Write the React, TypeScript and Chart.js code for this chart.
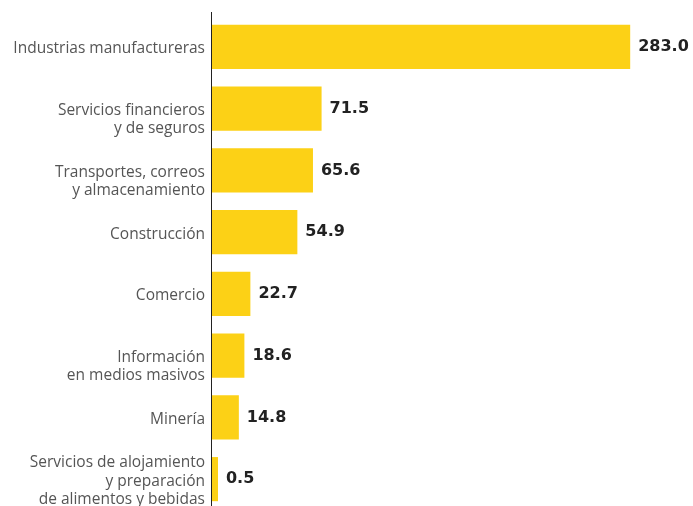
import React, { useEffect, useRef } from "react";
import { Chart, registerables } from "chart.js";

Chart.register(...registerables);

const categories: (string | string[])[] = [
  "Industrias manufactureras",
  ["Servicios financieros", "y de seguros"],
  ["Transportes, correos", "y almacenamiento"],
  "Construcción",
  "Comercio",
  ["Información", "en medios masivos"],
  "Minería",
  ["Servicios de alojamiento", "y preparación", "de alimentos y bebidas"],
];
const values = [283.0, 71.5, 65.6, 54.9, 22.7, 18.6, 14.8, 0.5];

const LABEL_FONT = "'Open Sans', 'DejaVu Sans', sans-serif";
const VALUE_FONT = "'DejaVu Sans', 'Open Sans', sans-serif";
const AXIS_MIN = -3.6;

const valueLabels = {
  id: "valueLabels",
  afterDatasetsDraw(chart: any) {
    const ctx = chart.ctx;
    const meta = chart.getDatasetMeta(0);
    ctx.save();
    ctx.font = `bold 16px ${VALUE_FONT}`;
    ctx.fillStyle = "#222222";
    ctx.textAlign = "left";
    ctx.textBaseline = "middle";
    meta.data.forEach((bar: any, i: number) => {
      ctx.fillText(values[i].toFixed(1), bar.x + 8, bar.y);
    });
    ctx.restore();
  },
};

const axisLine = {
  id: "axisLine",
  afterDraw(chart: any) {
    const ctx = chart.ctx;
    const x = Math.round(chart.chartArea.left) - 0.5;
    ctx.save();
    ctx.strokeStyle = "#222222";
    ctx.lineWidth = 1;
    ctx.beginPath();
    ctx.moveTo(x, 12);
    ctx.lineTo(x, chart.height);
    ctx.stroke();
    ctx.restore();
  },
};

export default function App() {
  const ref = useRef<HTMLCanvasElement>(null);
  useEffect(() => {
    if (!ref.current) return;
    const chart = new Chart(ref.current, {
      type: "bar",
      data: {
        labels: categories,
        datasets: [
          {
            data: values,
            backgroundColor: "#FCD116",
            borderWidth: 0,
            base: AXIS_MIN,
            categoryPercentage: 1,
            barPercentage: 0.715,
          },
        ],
      },
      options: {
        indexAxis: "y",
        animation: false,
        responsive: false,
        maintainAspectRatio: false,
        layout: { padding: { top: 16, right: 38, bottom: 0, left: 0 } },
        plugins: { legend: { display: false }, tooltip: { enabled: false } },
        scales: {
          x: { display: false, min: AXIS_MIN, max: 300 },
          y: {
            grid: { display: false, drawTicks: false },
            border: { display: false },
            ticks: {
              color: "#555555",
              padding: 7,
              labelOffset: 2,
              font: { family: LABEL_FONT, size: 15.5, lineHeight: 1.17 },
              callback: (_v: any, i: number) => {
                const c = categories[i];
                if (Array.isArray(c) && c.length === 2) return ["", ...c];
                return c;
              },
            },
            afterFit(scale: any) {
              scale.width = 212;
              scale.paddingTop = 0;
              scale.paddingBottom = 0;
            },
          },
        },
      },
      plugins: [valueLabels, axisLine],
    });
    return () => chart.destroy();
  }, []);
  return (
    <div
      style={{
        position: "fixed",
        left: 0,
        top: 0,
        width: 693,
        height: 506,
        overflow: "hidden",
        background: "#fff",
      }}
    >
      <canvas ref={ref} width={693} height={510} style={{ display: "block" }} />
    </div>
  );
}
